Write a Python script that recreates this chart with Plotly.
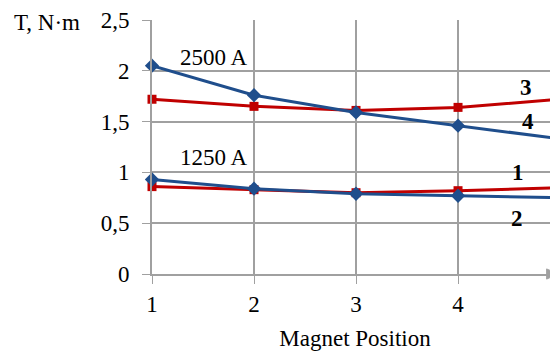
import plotly.graph_objects as go

positions = [1, 2, 3, 4, 5]
blue_2500 = [2.05, 1.76, 1.59, 1.46, 1.33]   # curve 4
red_2500 = [1.72, 1.65, 1.61, 1.64, 1.72]    # curve 3
blue_1250 = [0.93, 0.84, 0.79, 0.77, 0.75]   # curve 2
red_1250 = [0.86, 0.83, 0.80, 0.82, 0.85]    # curve 1
y_ticks = [0, 0.5, 1, 1.5, 2, 2.5]
x_ticks = [1, 2, 3, 4, 5]

BLUE = "#1F4E8C"
RED = "#C00000"
GRID = "#A0A0A0"
FONT = "Liberation Serif"
FS = 23
XR = [1, 4.98]

fig = go.Figure()

def add(y, color, symbol, size):
    fig.add_trace(go.Scatter(
        x=positions, y=y, mode="lines+markers",
        line=dict(color=color, width=3),
        marker=dict(symbol=symbol, size=size, color=color),
        cliponaxis=False, showlegend=False))

add(red_1250, RED, "square", 9)
add(blue_1250, BLUE, "diamond", 11)
add(red_2500, RED, "square", 9)
add(blue_2500, BLUE, "diamond", 11)

ann = [
    dict(x=1.60, y=2.13, text="2500 A", bold=False),
    dict(x=1.60, y=1.15, text="1250 A", bold=False),
    dict(x=4.67, y=1.84, text="3", bold=True),
    dict(x=4.69, y=1.50, text="4", bold=True),
    dict(x=4.59, y=1.00, text="1", bold=True),
    dict(x=4.58, y=0.55, text="2", bold=True),
]
for a in ann:
    t = "<b>%s</b>" % a["text"] if a["bold"] else a["text"]
    fig.add_annotation(x=a["x"], y=a["y"], text=t, showarrow=False,
                       font=dict(family=FONT, size=FS, color="black"))

fig.add_annotation(xref="paper", yref="paper", x=-0.345, y=0.99, text="T, N·m",
                   showarrow=False, xanchor="left", yanchor="middle",
                   font=dict(family=FONT, size=FS, color="black"))

# last tick label, which sits at the clipped right edge
last = x_ticks[-1]
fig.add_annotation(x=(last - XR[0]) / (XR[1] - XR[0]), xref="paper", yref="paper", y=-0.115,
                   text=str(last), showarrow=False, yanchor="middle", xanchor="center",
                   font=dict(family=FONT, size=FS, color="black"))

# arrow at end of x axis
fig.add_shape(type="path", xref="paper", yref="paper",
              path="M 0.972 -0.02 L 1.0 0 L 0.972 0.02 Z",
              fillcolor=GRID, line=dict(color=GRID, width=1))

fig.update_layout(
    width=550, height=343,
    margin=dict(l=144, r=0, t=12, b=77),
    paper_bgcolor="white", plot_bgcolor="white",
    separators=", ",
    font=dict(family=FONT, size=FS, color="black"),
    xaxis=dict(range=XR, tickvals=x_ticks, showgrid=True, gridcolor=GRID,
               gridwidth=1.5, zeroline=False, showline=True, linecolor=GRID,
               linewidth=2, ticks="outside", ticklen=8, tickcolor=GRID,
               title=dict(text="Magnet Position", font=dict(family=FONT, size=FS), standoff=14),
               tickfont=dict(family=FONT, size=FS)),
    yaxis=dict(range=[0, 2.5], tickvals=y_ticks, showgrid=True, gridcolor=GRID,
               gridwidth=1.5, zeroline=False, showline=True, linecolor=GRID,
               linewidth=2, ticks="outside", ticklen=8, tickcolor=GRID,
               ticklabelstandoff=8, tickfont=dict(family=FONT, size=FS)),
)

fig.write_html("out.html")
